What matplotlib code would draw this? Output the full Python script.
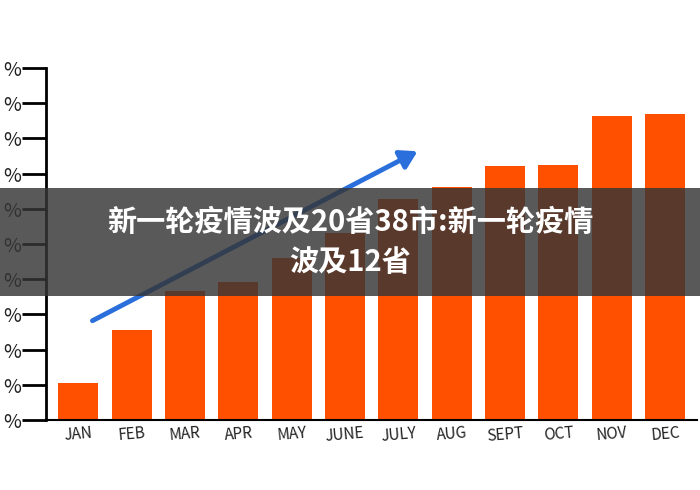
import matplotlib.pyplot as plt
from matplotlib.patches import FancyArrowPatch, Rectangle

plt.rcParams['font.family'] = ['Noto Sans CJK SC', 'DejaVu Sans']

months = ["JAN","FEB","MAR","APR","MAY","JUNE","JULY","AUG","SEPT","OCT","NOV","DEC"]
values = [10.6, 25.7, 36.6, 39.1, 46, 53, 62.9, 66.3, 72.3, 72.6, 86.3, 86.9]
yticks = [0,10,20,30,40,50,60,70,80,90,100]
ytick_labels = ["%"] * len(yticks)
title = "新一轮疫情波及20省38市:新一轮疫情\n波及12省"

fig = plt.figure(figsize=(7,4.9), dpi=100)
ax = fig.add_axes([0.066, 0.143, 0.93, 0.718])
x = range(len(months))
ax.bar(x, values, width=0.75, color='#ff5000')
ax.set_xlim(-0.6, 11.6)
ax.set_ylim(0, 100)
ax.set_yticks(yticks)
ax.set_yticklabels(ytick_labels, fontsize=14, color='#222')
ax.set_xticks(list(x))
ax.set_xticklabels(months, fontsize=11, rotation=5, color='#222')
for s in ['top','right']:
    ax.spines[s].set_visible(False)
ax.spines['left'].set_linewidth(2)
ax.spines['bottom'].set_linewidth(1.5)
ax.tick_params(axis='y', length=17, width=2, pad=1)
ax.tick_params(axis='x', length=0)

arr = FancyArrowPatch((90/700, 1-322/490), (420/700, 1-150/490), transform=fig.transFigure,
                      arrowstyle='-|>,head_length=10,head_width=6', color='#2a6fdb', lw=3.5)
fig.patches.append(arr)
fig.patches.append(Rectangle((0, 1-296/490), 1, 108/490, transform=fig.transFigure,
                             facecolor='#353535', alpha=0.82, zorder=5))
fig.text(0.5, 1-242/490, title, ha='center', va='center', color='white', fontsize=21,
         fontweight='bold', zorder=6, linespacing=1.45)
fig.savefig('out.png', dpi=100)
